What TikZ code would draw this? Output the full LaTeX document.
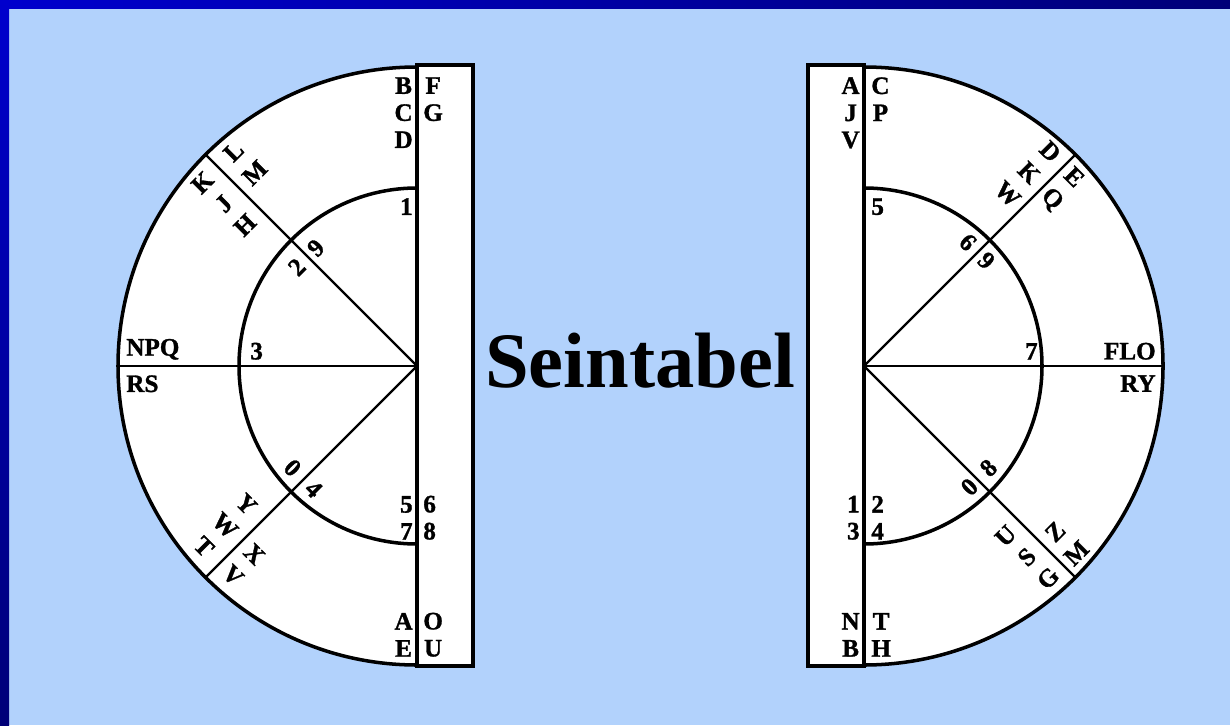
\documentclass[tikz,border=0pt]{standalone}
\usepackage{fontspec}
\setmainfont{Liberation Serif}
\newfontfamily\heavyfont{Liberation Serif Bold}[FakeBold=1.2]
\usepackage{tikz}
\usetikzlibrary{positioning}
\definecolor{bgblue}{RGB}{178,210,252}
\definecolor{rimblue}{RGB}{0,0,205}
\definecolor{rimnavy}{RGB}{0,0,120}

\begin{document}
\begin{tikzpicture}[
    x=0.02cm, y=0.02cm,
    rim/.style={line width=2pt, draw=black, fill=white},
    spoke/.style={line width=1.3pt},
    lbl/.style={font=\heavyfont\fontsize{14.3}{15.4}\selectfont, inner sep=0pt, align=center},
    rlbl/.style={font=\heavyfont\fontsize{14.3}{17.1}\selectfont, inner sep=0pt, align=center},
    title/.style={font=\bfseries\fontsize{44.7}{50}\selectfont, inner sep=0pt}
  ]
  \useasboundingbox (0,0) rectangle (1230,725);
  \fill[bgblue] (0,0) rectangle (1230,725);
  \shade[left color=rimblue, right color=rimnavy] (0,716) rectangle (1230,725);
  \shade[top color=rimblue, bottom color=rimnavy] (0,0) rectangle (9,725);

  % left wheel
  \coordinate (cL) at (417,359);
  \draw[rim] (417,59) rectangle (473,660);
  \draw[rim] (cL) ++(0,299) arc[start angle=90, end angle=270, radius=299] -- cycle;
  \draw[rim, fill=none] (cL) ++(0,178) arc[start angle=90, end angle=270, radius=178];
  \foreach \a in {135,180,225}
    \draw[spoke] (cL) -- +(\a:299);

  \node[lbl, anchor=north east] (lTopA) at (413,648) {B\\C\\D};
  \node[lbl, anchor=north west] (lTopB) at (423,648) {F\\G};
  \node[lbl, anchor=north east] (lOne) at (413,527) {1};
  \node[lbl, anchor=south east] (lMidA) at (413,185) {5\\7};
  \node[lbl, anchor=south west] (lMidB) at (423,185) {6\\8};
  \node[lbl, anchor=south east] (lBotA) at (413,68) {A\\E};
  \node[lbl, anchor=south west] (lBotB) at (423,68) {O\\U};
  \node[lbl, anchor=south west] (lNPQ) at (126,365) {NPQ};
  \node[lbl, anchor=north west] (lRS) at (126,350) {RS};
  \node[lbl, anchor=south west] (lThree) at (250,365) {3};

  \begin{scope}[shift={(cL)}, rotate=45]
    \node[rlbl, rotate=45, anchor=north] (lKJH) at (-22,290) {K\\J\\H};
    \node[rlbl, rotate=45, anchor=north] (lLM) at (22,290) {L\\M};
    \node[lbl, rotate=45] (lTwo) at (-15,155) {2};
    \node[lbl, rotate=45] (lNine) at (12,155) {9};
  \end{scope}
  \begin{scope}[shift={(cL)}, rotate=-45]
    \node[rlbl, rotate=-45, anchor=south] (lYWT) at (-23,-287) {Y\\W\\T};
    \node[rlbl, rotate=-45, anchor=south] (lXV) at (18,-287) {X\\V};
    \node[lbl, rotate=-45] (lZero) at (-16,-160) {0};
    \node[lbl, rotate=-45] (lFour) at (14,-160) {4};
  \end{scope}

  % right wheel
  \coordinate (cR) at (864,359);
  \draw[rim] (808,59) rectangle (864,660);
  \draw[rim] (cR) ++(0,299) arc[start angle=90, end angle=-90, radius=299] -- cycle;
  \draw[rim, fill=none] (cR) ++(0,178) arc[start angle=90, end angle=-90, radius=178];
  \foreach \a in {45,0,-45}
    \draw[spoke] (cR) -- +(\a:299);

  \node[lbl, anchor=north east] (rTopA) at (860,648) {A\\J\\V};
  \node[lbl, anchor=north west] (rTopB) at (871,648) {C\\P};
  \node[lbl, anchor=north west] (rFive) at (871,527) {5};
  \node[lbl, anchor=south east] (rMidA) at (860,185) {1\\3};
  \node[lbl, anchor=south west] (rMidB) at (871,185) {2\\4};
  \node[lbl, anchor=south east] (rBotA) at (860,68) {N\\B};
  \node[lbl, anchor=south west] (rBotB) at (871,68) {T\\H};
  \node[lbl, anchor=south east] (rSeven) at (1038,365) {7};
  \node[lbl, anchor=south east] (rFLO) at (1156,365) {FLO};
  \node[lbl, anchor=north east] (rRY) at (1156,350) {RY};

  \begin{scope}[shift={(cR)}, rotate=-45]
    \node[rlbl, rotate=-45, anchor=north] (rDKW) at (-20,292) {D\\K\\W};
    \node[rlbl, rotate=-45, anchor=north] (rEQ) at (15,291) {E\\Q};
    \node[lbl, rotate=-45] (rSix) at (-14,161) {6};
    \node[lbl, rotate=-45] (rNine) at (12,161) {9};
  \end{scope}
  \begin{scope}[shift={(cR)}, rotate=45]
    \node[rlbl, rotate=45, anchor=south] (rUSG) at (-20,-289) {U\\S\\G};
    \node[rlbl, rotate=45, anchor=south] (rZM) at (18,-291) {Z\\M};
    \node[lbl, rotate=45] (rZero) at (-11,-160) {0};
    \node[lbl, rotate=45] (rEight) at (16,-160) {8};
  \end{scope}

  \node[title, anchor=base] (title) at (640,338) {Seintabel};
\end{tikzpicture}
\end{document}
